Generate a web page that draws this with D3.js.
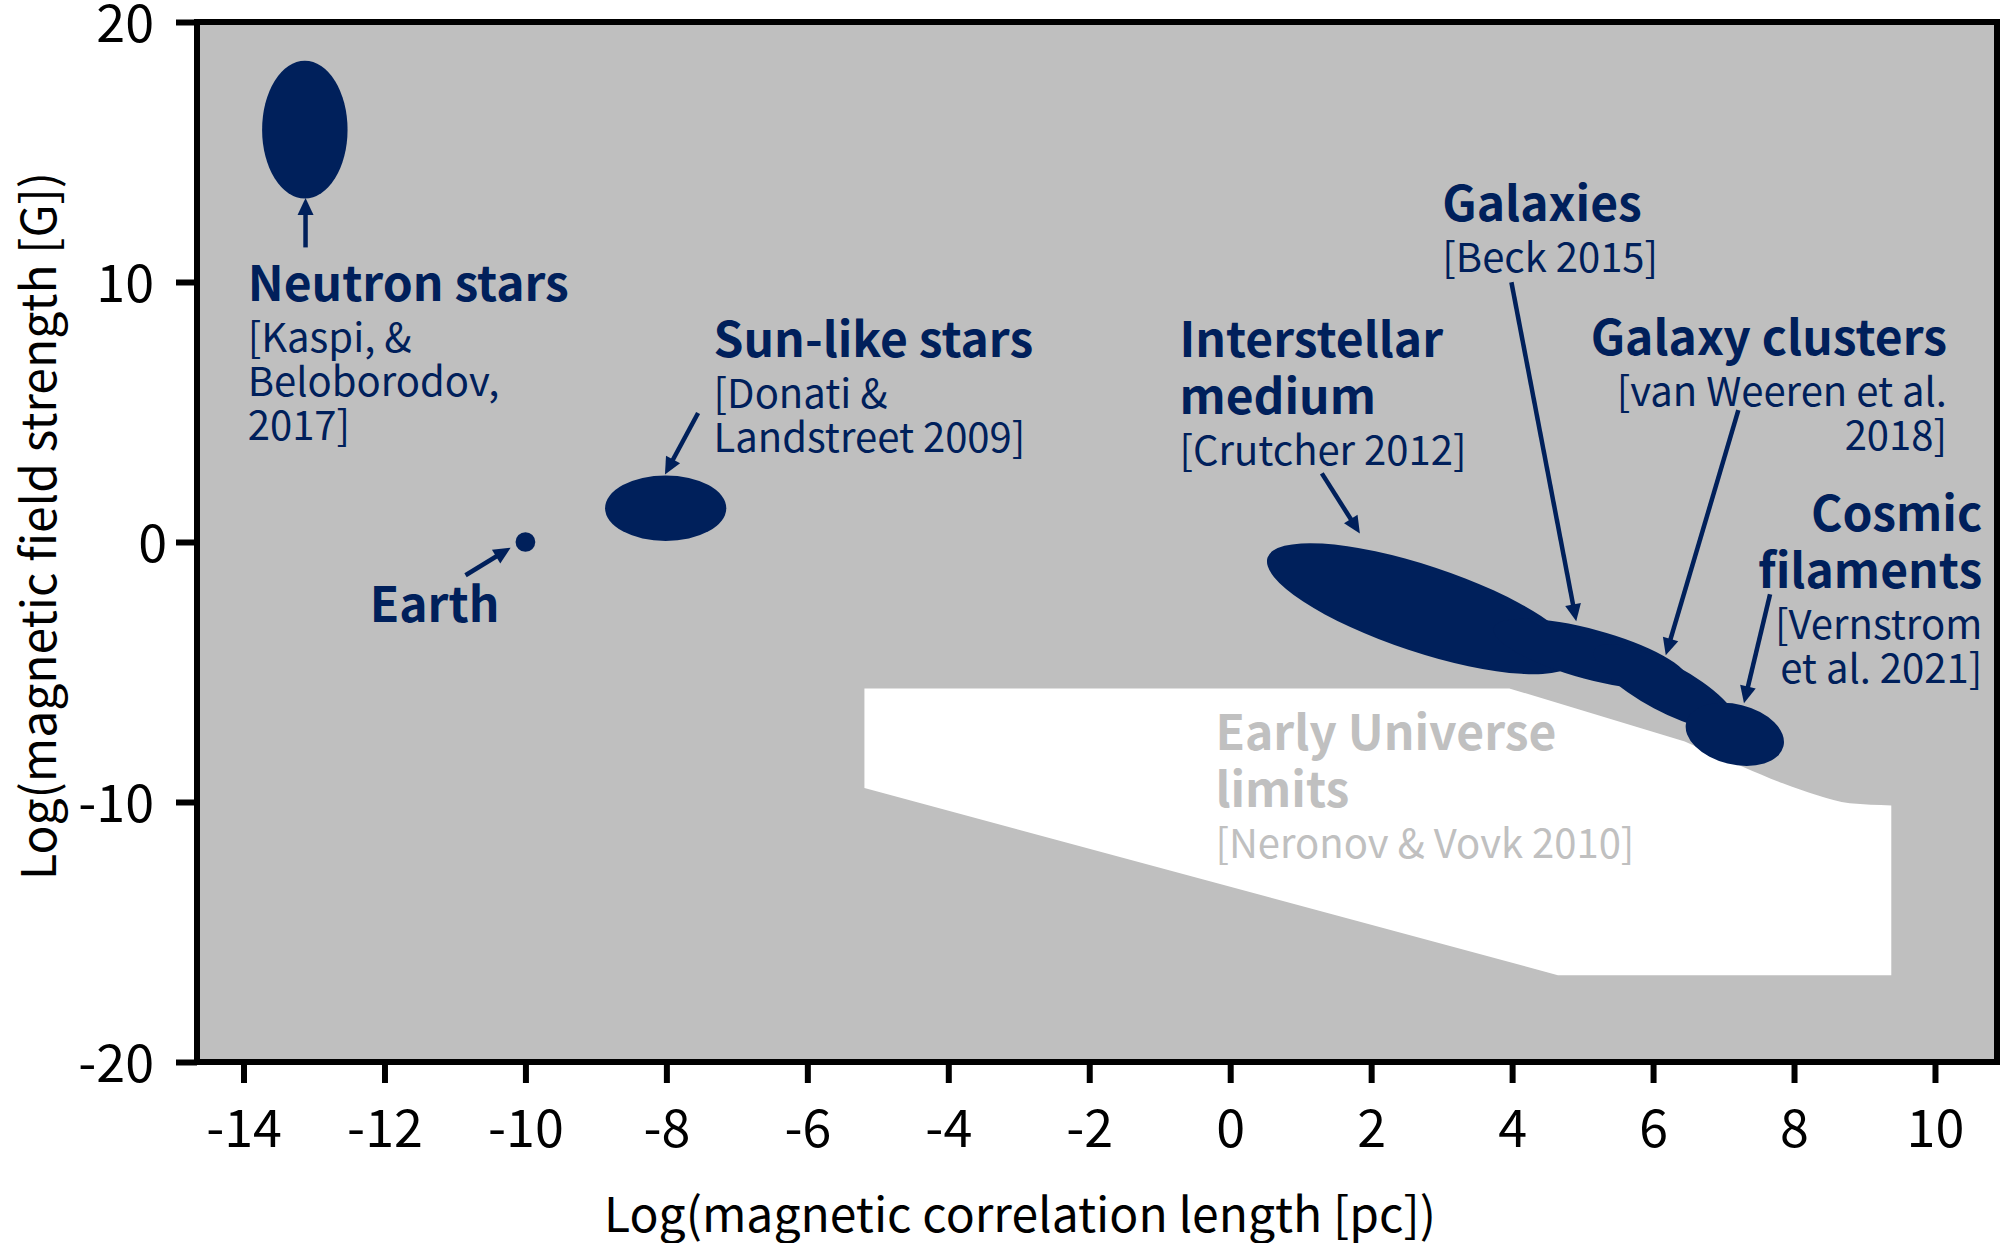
<!DOCTYPE html>
<html>
<head>
<meta charset="utf-8">
<title>Magnetic field strength vs correlation length</title>
<style>
  body { margin: 0; padding: 0; background: #fff; }
  svg text { font-family: "Noto Sans CJK KR", "Noto Sans", sans-serif; }
</style>
</head>
<body>
<div id="chart"></div>
<script src="https://d3js.org/d3.v7.min.js"></script>
<script>
// ticks
var xTicks = [-14, -12, -10, -8, -6, -4, -2, 0, 2, 4, 6, 8, 10];
var yTicks = [-20, -10, 0, 10, 20];

// observed regions: both ends of the long axis (log length, log B) and width / length
var regionNames  = ["Neutron stars", "Earth", "Sun-like stars", "Interstellar medium", "Galaxies", "Galaxy clusters", "Cosmic filaments"];
var regionStart  = [[-13.13, 13.21], [-10.14, 0], [-8.87, 1.30], [0.53, -0.60], [3.74, -3.32], [5.17, -4.14], [6.47, -6.94]];
var regionEnd    = [[-13.13, 18.51], [-9.86, 0], [-7.15, 1.30], [4.91, -4.53], [6.48, -5.32], [7.17, -7.03], [7.85, -7.86]];
var regionRatio  = [0.62, 1.0, 0.54, 0.266, 0.25, 0.30, 0.60];

// early universe limits (white area)
var limitUpperX = [-5.19, 3.96, 6.45, 7.28, 7.84, 8.33, 8.79, 9.38];
var limitUpperY = [-5.63, -5.63, -7.67, -8.65, -9.28, -9.74, -10.05, -10.13];
var limitLowerX = [9.38, 4.65, -5.19];
var limitLowerY = [-16.66, -16.66, -9.46];

// arrows: from label to region
var arrowFrom = [[-13.12, 11.33], [-10.85, -1.28], [-7.55, 4.96], [1.30, 2.64], [3.99, 9.99], [7.21, 5.07], [7.66, -2.01]];
var arrowTo   = [[-13.12, 13.23], [-10.21, -0.22], [-8.02, 2.60], [1.84, 0.33], [4.91, -3.05], [6.18, -4.36], [7.29, -6.20]];

var labels = [
  {x: -13.94, y: 9.26, anchor: "start", lines: [["Neutron stars", "b"], ["[Kaspi, &", "r"], ["Beloborodov,", "r"], ["2017]", "r"]]},
  {x: -12.21, y: -3.09, anchor: "start", lines: [["Earth", "b"]]},
  {x: -7.33, y: 7.10, anchor: "start", lines: [["Sun-like stars", "b"], ["[Donati &", "r"], ["Landstreet 2009]", "r"]]},
  {x: -0.72, y: 7.10, anchor: "start", lines: [["Interstellar", "b"], ["medium", "b"], ["[Crutcher 2012]", "r"]]},
  {x: 3.01, y: 12.33, anchor: "start", lines: [["Galaxies", "b"], ["[Beck 2015]", "r"]]},
  {x: 10.17, y: 7.18, anchor: "end", lines: [["Galaxy clusters", "b"], ["[van Weeren et al.", "r"], ["2018]", "r"]]},
  {x: 10.67, y: 0.41, anchor: "end", lines: [["Cosmic", "b"], ["filaments", "b"], ["[Vernstrom", "r"], ["et al. 2021]", "r"]]},
  {x: -0.21, y: -8.01, anchor: "start", faded: true, lines: [["Early Universe", "b"], ["limits", "b"], ["[Neronov & Vovk 2010]", "r"]]}
];

var width = 2010, height = 1243;
var navy = "#00205b", grey = "#bfbfbf";

var svg = d3.select("#chart").append("svg")
    .attr("width", width)
    .attr("height", height);

var x = d3.scaleLinear().domain([-14.66, 10.88]).range([197, 1997]);
var y = d3.scaleLinear().domain([-20, 20]).range([1062, 22]);

// plot background
svg.append("rect")
  .attr("x", x.range()[0]).attr("y", y.range()[1])
  .attr("width", x.range()[1] - x.range()[0])
  .attr("height", y.range()[0] - y.range()[1])
  .attr("fill", grey);

// white limits area
var straight = d3.line().x(function(d) { return x(d[0]); }).y(function(d) { return y(d[1]); });
var smooth = d3.line().x(function(d) { return x(d[0]); }).y(function(d) { return y(d[1]); }).curve(d3.curveMonotoneX);
var upper = limitUpperX.map(function(v, i) { return [v, limitUpperY[i]]; });
var lower = limitLowerX.map(function(v, i) { return [v, limitLowerY[i]]; });
var limitPath = straight(upper.slice(0, 3)) +
  smooth(upper.slice(2)).replace(/^M/, "L") +
  straight(lower).replace(/^M/, "L") + "Z";
svg.append("path").attr("d", limitPath).attr("fill", "#fff");

// regions
regionNames.forEach(function(name, i) {
  var x1 = x(regionStart[i][0]), y1 = y(regionStart[i][1]);
  var x2 = x(regionEnd[i][0]), y2 = y(regionEnd[i][1]);
  var cx = (x1 + x2) / 2, cy = (y1 + y2) / 2;
  var a = Math.hypot(x2 - x1, y2 - y1) / 2;
  var ang = Math.atan2(y2 - y1, x2 - x1) * 180 / Math.PI;
  svg.append("ellipse")
    .attr("class", "region")
    .attr("cx", cx).attr("cy", cy)
    .attr("rx", a).attr("ry", a * regionRatio[i])
    .attr("transform", "rotate(" + ang + "," + cx + "," + cy + ")")
    .attr("fill", navy);
});

// arrows
var headLen = 17, headW = 8;
arrowFrom.forEach(function(f, i) {
  var x1 = x(f[0]), y1 = y(f[1]);
  var x2 = x(arrowTo[i][0]), y2 = y(arrowTo[i][1]);
  var len = Math.hypot(x2 - x1, y2 - y1);
  var ux = (x2 - x1) / len, uy = (y2 - y1) / len;
  var bx = x2 - ux * headLen, by = y2 - uy * headLen;
  svg.append("line")
    .attr("x1", x1).attr("y1", y1)
    .attr("x2", bx + ux * 2).attr("y2", by + uy * 2)
    .attr("stroke", navy).attr("stroke-width", 4.5);
  svg.append("path")
    .attr("d", "M" + x2 + "," + y2 +
      "L" + (bx - uy * headW) + "," + (by + ux * headW) +
      "L" + (bx + uy * headW) + "," + (by - ux * headW) + "Z")
    .attr("fill", navy);
});

// labels
labels.forEach(function(lab) {
  var t = svg.append("text")
    .attr("x", x(lab.x)).attr("y", y(lab.y))
    .attr("text-anchor", lab.anchor)
    .attr("fill", lab.faded ? "#c0c0c0" : navy);
  var prev = null;
  lab.lines.forEach(function(ln, j) {
    var gap = 0;
    if (j > 0) gap = ln[1] === "b" ? 57 : (prev === "b" ? 51 : 44);
    t.append("tspan")
      .attr("x", x(lab.x))
      .attr("dy", gap)
      .attr("font-size", ln[1] === "b" ? 48 : 40)
      .attr("font-weight", ln[1] === "b" ? 700 : 400)
      .text(ln[0]);
    prev = ln[1];
  });
});

// frame
svg.append("rect")
  .attr("x", x.range()[0]).attr("y", y.range()[1])
  .attr("width", x.range()[1] - x.range()[0])
  .attr("height", y.range()[0] - y.range()[1])
  .attr("fill", "none")
  .attr("stroke", "#000")
  .attr("stroke-width", 6);

// axes
var yAxis = svg.append("g")
  .attr("transform", "translate(" + x.range()[0] + ",0)")
  .call(d3.axisLeft(y).tickValues(yTicks).tickSize(21).tickPadding(22).tickFormat(d3.format("d")));
var xAxis = svg.append("g")
  .attr("transform", "translate(0," + y.range()[0] + ")")
  .call(d3.axisBottom(x).tickValues(xTicks).tickSize(21).tickFormat(d3.format("d")));

[xAxis, yAxis].forEach(function(g) {
  g.select(".domain").remove();
  g.selectAll(".tick line").attr("stroke", "#000").attr("stroke-width", 6);
  g.selectAll(".tick text")
    .attr("fill", "#000")
    .attr("font-size", 52)
    .attr("font-family", '"Noto Sans CJK KR", "Noto Sans", sans-serif')
    .text(function(d) { return d < 0 ? "-" + Math.abs(d) : d; });
});
yAxis.selectAll(".tick text").attr("dy", "0.38em")
  .attr("dx", function(d) { return d === 0 ? 13 : 0; });
xAxis.selectAll(".tick text").attr("y", 85).attr("dy", 0);

// axis titles
svg.append("text")
  .attr("x", 1020).attr("y", 1232)
  .attr("text-anchor", "middle")
  .attr("font-size", 48)
  .attr("fill", "#000")
  .text("Log(magnetic correlation length [pc])");

svg.append("text")
  .attr("transform", "translate(56,526) rotate(-90)")
  .attr("text-anchor", "middle")
  .attr("font-size", 48)
  .attr("fill", "#000")
  .text("Log(magnetic field strength [G])");
</script>
</body>
</html>
